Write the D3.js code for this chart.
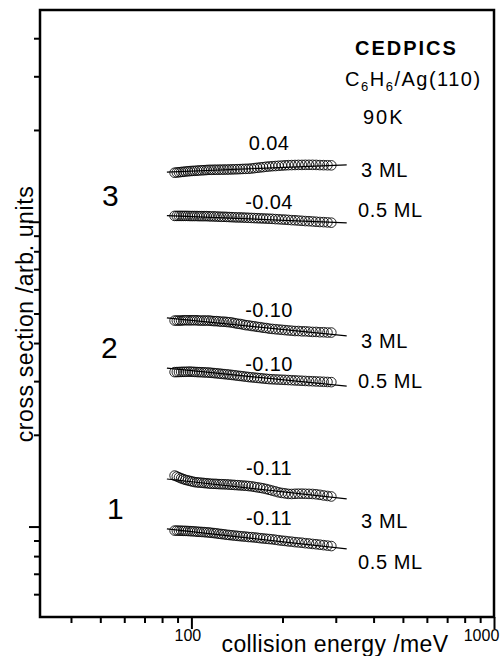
<!DOCTYPE html>
<html>
<head>
<meta charset="utf-8">
<script src="https://cdn.jsdelivr.net/npm/d3@7"></script>
<style>
  body { margin: 0; background: #fff; }
  svg { display: block; font-family: "Liberation Sans", Arial, sans-serif; }
</style>
</head>
<body>
<svg id="chart"></svg>
<script>
// collision energies (meV), shared by the six curves
const energies = [88, 89.5, 91, 92.5, 94, 95.6, 97.3, 99, 100.7, 102.5, 104.4, 106.2, 108.2, 110.2,
  112.2, 114.3, 116.4, 118.7, 120.9, 123.3, 125.7, 128.2, 130.8, 133.4, 136.1, 138.9, 141.8, 144.8,
  147.9, 151.1, 154.4, 157.8, 161.3, 164.9, 168.7, 172.5, 176.6, 180.7, 185, 189.5, 194.1, 198.9,
  203.9, 209, 214.4, 220, 225.8, 231.8, 238, 244.6, 251.4, 258.4, 265.8, 273.5, 281.6, 290];

// cross sections (arb. units), one array per curve, top to bottom
const cs3_3ML = [14.48, 14.51, 14.53, 14.56, 14.58, 14.61, 14.64, 14.66, 14.68, 14.69, 14.71, 14.73,
  14.75, 14.76, 14.78, 14.80, 14.80, 14.81, 14.81, 14.82, 14.82, 14.83, 14.83, 14.84, 14.85, 14.86,
  14.87, 14.88, 14.90, 14.91, 14.92, 14.95, 14.99, 15.03, 15.07, 15.10, 15.15, 15.18, 15.21, 15.23,
  15.26, 15.28, 15.31, 15.33, 15.34, 15.35, 15.36, 15.36, 15.37, 15.37, 15.37, 15.36, 15.34, 15.33,
  15.32, 15.31];
const cs3_05ML = [10.45, 10.45, 10.45, 10.45, 10.45, 10.45, 10.45, 10.44, 10.44, 10.44, 10.44, 10.43,
  10.43, 10.43, 10.43, 10.42, 10.41, 10.41, 10.40, 10.39, 10.38, 10.38, 10.37, 10.36, 10.35, 10.34,
  10.33, 10.33, 10.32, 10.31, 10.30, 10.29, 10.28, 10.27, 10.26, 10.25, 10.24, 10.23, 10.22, 10.20,
  10.19, 10.17, 10.16, 10.14, 10.12, 10.11, 10.09, 10.07, 10.05, 10.04, 10.02, 10.00, 9.98, 9.97,
  9.95, 9.93];
const cs2_3ML = [4.74, 4.74, 4.74, 4.74, 4.75, 4.75, 4.75, 4.75, 4.75, 4.75, 4.75, 4.74, 4.74, 4.74,
  4.74, 4.74, 4.73, 4.72, 4.72, 4.71, 4.70, 4.70, 4.69, 4.68, 4.67, 4.65, 4.63, 4.62, 4.60, 4.58,
  4.57, 4.55, 4.54, 4.52, 4.51, 4.49, 4.48, 4.46, 4.45, 4.44, 4.43, 4.42, 4.41, 4.40, 4.39, 4.38,
  4.38, 4.37, 4.37, 4.36, 4.35, 4.35, 4.34, 4.34, 4.33, 4.33];
const cs2_05ML = [3.211, 3.212, 3.214, 3.216, 3.218, 3.219, 3.221, 3.222, 3.219, 3.216, 3.213, 3.210,
  3.208, 3.205, 3.202, 3.199, 3.194, 3.188, 3.182, 3.176, 3.170, 3.163, 3.157, 3.151, 3.143, 3.135,
  3.127, 3.119, 3.111, 3.103, 3.094, 3.087, 3.081, 3.074, 3.067, 3.060, 3.053, 3.046, 3.042, 3.038,
  3.035, 3.031, 3.028, 3.024, 3.020, 3.016, 3.012, 3.008, 3.004, 3.000, 2.997, 2.993, 2.989, 2.985,
  2.981, 2.977];
const cs1_3ML = [1.470, 1.460, 1.450, 1.440, 1.431, 1.423, 1.417, 1.411, 1.405, 1.399, 1.396, 1.394,
  1.392, 1.389, 1.387, 1.384, 1.382, 1.381, 1.380, 1.378, 1.377, 1.376, 1.375, 1.373, 1.371, 1.369,
  1.367, 1.365, 1.363, 1.361, 1.358, 1.355, 1.350, 1.345, 1.340, 1.335, 1.328, 1.320, 1.312, 1.304,
  1.295, 1.289, 1.285, 1.280, 1.279, 1.281, 1.282, 1.282, 1.281, 1.280, 1.279, 1.276, 1.271, 1.265,
  1.260, 1.255];
const cs1_05ML = [0.970, 0.970, 0.969, 0.969, 0.968, 0.968, 0.967, 0.966, 0.965, 0.964, 0.962, 0.961,
  0.960, 0.959, 0.957, 0.956, 0.954, 0.952, 0.950, 0.947, 0.945, 0.943, 0.940, 0.938, 0.936, 0.934,
  0.932, 0.930, 0.928, 0.927, 0.924, 0.923, 0.921, 0.919, 0.916, 0.914, 0.912, 0.910, 0.908, 0.905,
  0.902, 0.899, 0.897, 0.894, 0.892, 0.889, 0.887, 0.885, 0.882, 0.880, 0.877, 0.875, 0.872, 0.869,
  0.866, 0.863];

// power-law fits: exponent and value at 100 meV
const slopes = [0.04, -0.04, -0.10, -0.10, -0.11, -0.11];
const fitAt100 = [14.66, 10.4, 4.75, 3.25, 1.403, 0.962];
const fitRange = [83, 326];
const coverages = ["3 ML", "0.5 ML", "3 ML", "0.5 ML", "3 ML", "0.5 ML"];
const groupLabels = ["3", "2", "1"];

const xMajor = [100, 1000];
const yMajor = [1, 10];

const series = [cs3_3ML, cs3_05ML, cs2_3ML, cs2_05ML, cs1_3ML, cs1_05ML];

// text placement (pixels inside the plot area)
const slopePos = [140, 199, 307, 361, 465, 515];
const coveragePos = [[321, 167], [318, 207], [321, 338], [318, 378], [321, 518], [318, 559]];
const groupPos = [[62, 196], [61, 348], [67, 509]];

const margin = {top: 10, right: 10, bottom: 39, left: 40};
const W = 504, H = 656;
const width = W - margin.left - margin.right;
const height = H - margin.top - margin.bottom;

const x = d3.scaleLog().domain([31.6, 1000]).range([0, width]);
const y = d3.scaleLog().domain([0.505, 49.5]).range([height, 0]);

const svg = d3.select("#chart").attr("width", W).attr("height", H);
const chart = svg.append("g").attr("transform", `translate(${margin.left},${margin.top})`);

// axes: minor and major ticks separately
const xMinor = x.ticks().filter(d => !xMajor.includes(d));
const yMinor = y.ticks().filter(d => !yMajor.includes(d) && d > 0.55);

const xAxisG = chart.append("g").attr("transform", `translate(0,${height})`);
xAxisG.append("g").call(d3.axisBottom(x).tickValues(xMinor).tickSize(6).tickFormat(""));
xAxisG.append("g").call(d3.axisBottom(x).tickValues(xMajor).tickSize(12).tickPadding(1).tickFormat(d3.format("d")));
xAxisG.selectAll("text")
    .attr("font-size", 16)
    .attr("font-family", "Liberation Sans, Arial, sans-serif")
    .attr("dx", d => d === 1000 ? -13 : -4);

const yAxisG = chart.append("g");
yAxisG.append("g").call(d3.axisLeft(y).tickValues(yMinor).tickSize(6).tickFormat(""));
yAxisG.append("g").call(d3.axisLeft(y).tickValues(yMajor).tickSize(11).tickFormat(""));

chart.selectAll(".domain").remove();
chart.selectAll(".tick line").attr("stroke", "#000").attr("stroke-width", 2);

chart.append("rect")
    .attr("x", 0).attr("y", 0)
    .attr("width", width).attr("height", height)
    .attr("fill", "none").attr("stroke", "#000").attr("stroke-width", 2.5);

// data circles
series.forEach((vals, i) => {
  chart.append("g").selectAll("circle")
      .data(energies.map((e, j) => ({e: e, v: vals[j]})))
    .join("circle")
      .attr("cx", d => x(d.e))
      .attr("cy", d => y(d.v))
      .attr("r", 4.8)
      .attr("fill", "none")
      .attr("stroke", "#000")
      .attr("stroke-width", 0.85);
});

// fit lines
const line = d3.line().x(d => x(d[0])).y(d => y(d[1]));
slopes.forEach((s, i) => {
  chart.append("path")
      .datum(fitRange.map(e => [e, fitAt100[i] * Math.pow(e / 100, s)]))
      .attr("d", line)
      .attr("fill", "none")
      .attr("stroke", "#000")
      .attr("stroke-width", 1.2);
});

// slope labels
chart.selectAll(".slope")
    .data(slopes)
  .join("text")
    .attr("class", "slope")
    .attr("x", 229)
    .attr("y", (d, i) => slopePos[i])
    .attr("text-anchor", "middle")
    .attr("font-size", 20)
    .attr("letter-spacing", 0.4)
    .text(d => d.toFixed(2));

// coverage labels
chart.selectAll(".cov")
    .data(coverages)
  .join("text")
    .attr("class", "cov")
    .attr("x", (d, i) => coveragePos[i][0])
    .attr("y", (d, i) => coveragePos[i][1])
    .attr("font-size", 20)
    .attr("letter-spacing", 0.6)
    .text(d => d);

// group numbers
chart.selectAll(".grp")
    .data(groupLabels)
  .join("text")
    .attr("class", "grp")
    .attr("x", (d, i) => groupPos[i][0])
    .attr("y", (d, i) => groupPos[i][1])
    .attr("font-size", 30)
    .text(d => d);

// title block
chart.append("text")
    .attr("x", 315).attr("y", 45)
    .attr("font-size", 20).attr("font-weight", "bold").attr("letter-spacing", 2)
    .text("CEDPICS");

const sys = chart.append("text")
    .attr("x", 305).attr("y", 76)
    .attr("font-size", 20).attr("letter-spacing", 1.5);
sys.append("tspan").text("C");
sys.append("tspan").attr("font-size", 13).attr("dy", 5).text("6");
sys.append("tspan").attr("dy", -5).text("H");
sys.append("tspan").attr("font-size", 13).attr("dy", 5).text("6");
sys.append("tspan").attr("dy", -5).text("/Ag(110)");

chart.append("text")
    .attr("x", 323).attr("y", 114)
    .attr("font-size", 20).attr("letter-spacing", 2)
    .text("90K");

// axis titles
svg.append("text")
    .attr("x", 335).attr("y", 652)
    .attr("text-anchor", "middle")
    .attr("font-size", 23).attr("letter-spacing", 0.4)
    .text("collision energy /meV");

svg.append("text")
    .attr("transform", "translate(33,314) rotate(-90)")
    .attr("text-anchor", "middle")
    .attr("font-size", 23).attr("letter-spacing", 0.6)
    .text("cross section /arb. units");
</script>
</body>
</html>
